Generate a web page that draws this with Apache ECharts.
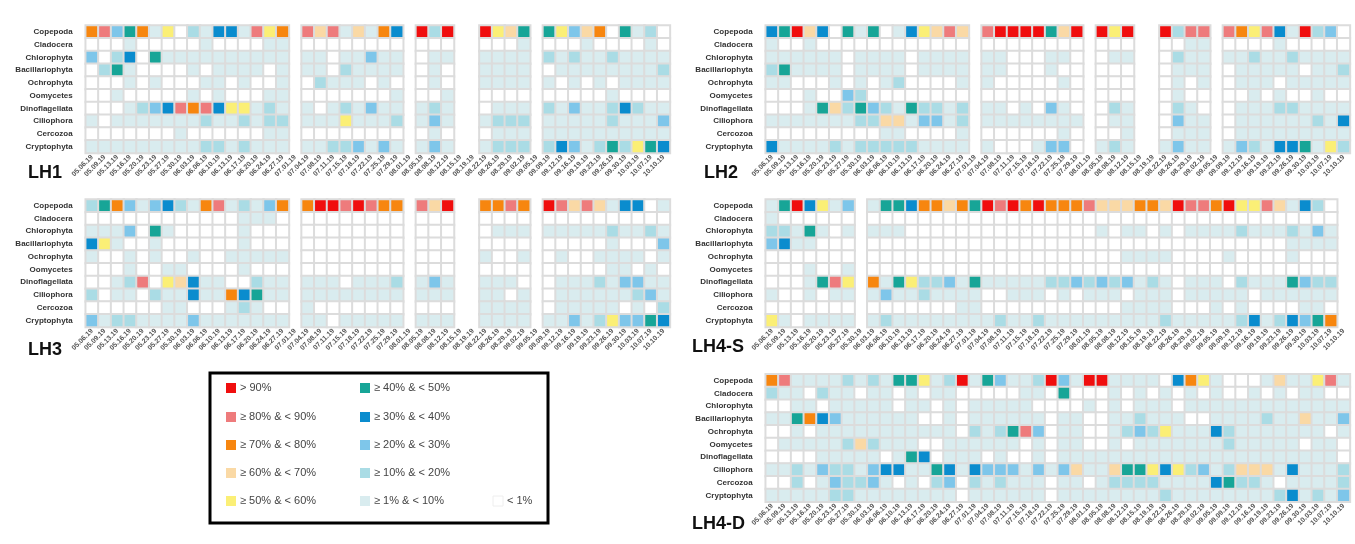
<!DOCTYPE html>
<html>
<head>
<meta charset="utf-8">
<script src="https://cdn.jsdelivr.net/npm/echarts@6/dist/echarts.min.js"></script>
<style>
  html, body { margin: 0; padding: 0; background: #fff; }
  #main { width: 1355px; height: 544px; }
</style>
</head>
<body>
<div id="main"></div>
<script>
const taxa = ['Copepoda', 'Cladocera', 'Chlorophyta', 'Bacillariophyta', 'Ochrophyta',
  'Oomycetes', 'Dinoflagellata', 'Ciliophora', 'Cercozoa', 'Cryptophyta'];

const dates = ['05.06.19', '05.09.19', '05.13.19', '05.16.19', '05.20.19', '05.23.19', '05.27.19', '05.30.19',
  '06.03.19', '06.06.19', '06.10.19', '06.13.19', '06.17.19', '06.20.19', '06.24.19', '06.27.19',
  '07.01.19', '07.04.19', '07.08.19', '07.11.19', '07.15.19', '07.18.19', '07.22.19', '07.25.19', '07.29.19',
  '08.01.19', '08.05.19', '08.08.19', '08.12.19', '08.15.19', '08.19.19', '08.22.19', '08.26.19', '08.29.19',
  '09.02.19', '09.05.19', '09.09.19', '09.12.19', '09.16.19', '09.19.19', '09.23.19', '09.26.19', '09.30.19',
  '10.03.19', '10.07.19', '10.10.19'];

// share class of each taxon per date: 0 = "< 1%" ... 9 = "80-90%", A = "> 90%", '.' = no sample
const binLabels = ['< 1%', '≥ 1% & < 10%', '≥ 10% & < 20%', '≥ 20% & < 30%', '≥ 30% & < 40%',
  '≥ 40% & < 50%', '≥ 50% & < 60%', '≥ 60% & < 70%', '≥ 70% & < 80%', '≥ 80% & < 90%', '> 90%'];

const lh1 = [
  '8935816021441968.97917184.A2A..A675.5637805120',
  '0001000001000011.00000000.000..0001.0001000010',
  '3024051111111111.11011311.011..1111.2121121111',
  '0251000010111101.11021111.010..1111.0111111112',
  '0001010001101001.02111010.010..1111.1010101111',
  '0010000010100011.00000001.001..0000.0000010000',
  '0001234989466121.10121311.121..0111.2131124211',
  '1011111112112122.11161112.131..1222.1111121113',
  '0000000100000011.00000000.010..0111.1111111111',
  '1111111112212111.11223131.131..1222.2431252654'
];
const lh2 = [
  '45A7405150146797.9AAAA57A.A6A..A299.986941A230',
  '1001000000000000.00000000.000..0011.0000100000',
  '1111110111101111.11000110.011..0211.1121121111',
  '2511110111101111.11000100.000..0111.0111110112',
  '1100010101200001.10000010.000..0101.0111011111',
  '0001003200000000.00000000.000..0100.0010100100',
  '0001572532152212.11010310.021..0210.0111221111',
  '1111111227713312.11111111.011..0311.0111111214',
  '0000000001100001.00000010.001..0111.0111111111',
  '4111121222221111.10001330.121..1311.1321445162'
];
const lh3 = [
  '2583134218912138.8AA9A988.97A..8898.A979714401',
  '0000000000001110.00000000.000..0000.0000000000',
  '1113051000001000.00000000.000..0111.1111121121',
  '4610010000001000.00000000.000..0000.0000010003',
  '1001010010011111.00000000.000..1001.0100111101',
  '0001001100001000.00000000.000..0000.0000011010',
  '0012906741100211.11101112.131..1110.0111213311',
  '2011021141184511.11111111.111..1101.0111111231',
  '0000001100012100.10000000.000..1111.0111110102',
  '3122111131111111.11011111.111..1111.1131263354'
];
const lh4s = [
  '15A4613.155488785A9A8A8889777887A998A66971420.',
  '1000000.0000000000000000000000000000000000000.',
  '2215101.1110000000000000001011010111121112131.',
  '3411000.0000000000000000000000000000000001111.',
  '0000000.0000000000000000000011110000100001000.',
  '0001001.0000000000000000000000000000000000000.',
  '0001596.8156223151111122323231210111021115322.',
  '1001011.1311211110011101011101110111110111111.',
  '0000000.0000000110000000000011110001010000110.',
  '6101111.1211111111211211111111121111124124358.'
];
const lh4d = [
  '891111212155612A153112A31AA1111048610001711691',
  '2110211011010110000011050001010101010010101100',
  '0011011111011010111110000101011101111111111111',
  '1158431111110010111111011001121110011112117113',
  '0010111111111110212593011001232611142111111101',
  '0111112721110011111101011001011111112111110110',
  '0000111110154011101001011111111111111111111110',
  '1121322134411541433313137117556462312777141112',
  '0020132231010230212111011012222111145221011112',
  '1111122111111110111111011111111211111111241213'
];

const palette = ['#ffffff', '#d9ecef', '#aadce5', '#7ec6ea', '#0a8cce', '#17a597',
  '#fbef76', '#fad9a5', '#f7860f', '#ee7b7c', '#f00e0e'];

const panels = [
  { name: 'LH1', rows: lh1, left: 85.7, top: 25.6, tx: 28, ty: 164 },
  { name: 'LH2', rows: lh2, left: 765.7, top: 25.6, tx: 704, ty: 164 },
  { name: 'LH3', rows: lh3, left: 85.7, top: 199.4, tx: 28, ty: 341 },
  { name: 'LH4-S', rows: lh4s, left: 765.7, top: 199.4, tx: 692, ty: 338 },
  { name: 'LH4-D', rows: lh4d, left: 765.7, top: 374.3, tx: 692, ty: 515 }
];

function toCells(rows) {
  const out = [];
  rows.forEach((row, r) => {
    row.split('').forEach((ch, c) => {
      if (ch === '.') return;
      out.push([c, r, ch === 'A' ? 10 : Number(ch)]);
    });
  });
  return out;
}

const FONT = 'Liberation Sans, Arial, sans-serif';

// legend key: two columns of five plus "< 1%"
const keyItems = [];
const rowY = [388, 417, 445, 473, 501];
[10, 9, 8, 7, 6].forEach((b, i) => keyItems.push({ b, x: 226, y: rowY[i] }));
[5, 4, 3, 2, 1].forEach((b, i) => keyItems.push({ b, x: 360, y: rowY[i] }));
keyItems.push({ b: 0, x: 493, y: rowY[4] });

const graphic = [{
  type: 'rect',
  shape: { x: 210, y: 373, width: 338, height: 150 },
  style: { fill: 'none', stroke: '#000', lineWidth: 3 }
}];
keyItems.forEach(k => {
  graphic.push({
    type: 'rect',
    shape: { x: k.x, y: k.y - 5, width: 10, height: 10 },
    style: { fill: palette[k.b], stroke: k.b === 0 ? '#eeeeee' : null, lineWidth: 1 }
  });
  graphic.push({
    type: 'text',
    x: k.x + 14, y: k.y,
    style: { text: binLabels[k.b], fill: '#444', font: '11px ' + FONT, verticalAlign: 'middle' }
  });
});

const chart = echarts.init(document.getElementById('main'));
chart.setOption({
  animation: false,
  title: panels.map(p => ({
    text: p.name, left: p.tx, top: p.ty, padding: 0,
    textStyle: { fontSize: 18, fontWeight: 'bold', color: '#111', fontFamily: FONT }
  })),
  grid: panels.map(p => ({ left: p.left, top: p.top, width: 584.2, height: 127.5 })),
  xAxis: panels.map((p, i) => ({
    type: 'category', gridIndex: i, data: dates,
    axisLine: { show: false }, axisTick: { show: false }, splitLine: { show: false },
    axisLabel: { interval: 0, rotate: 45, fontSize: 7, fontWeight: 'bold', color: '#555', margin: 3, fontFamily: FONT }
  })),
  yAxis: panels.map((p, i) => ({
    type: 'category', gridIndex: i, data: taxa, inverse: true,
    axisLine: { show: false }, axisTick: { show: false }, splitLine: { show: false },
    axisLabel: { fontSize: 8, fontWeight: 'bold', color: '#333', margin: 13, fontFamily: FONT }
  })),
  visualMap: {
    type: 'piecewise', show: false, dimension: 2,
    seriesIndex: [0, 1, 2, 3, 4],
    pieces: palette.map((c, k) => ({ value: k, color: c }))
  },
  series: panels.map((p, i) => ({
    type: 'heatmap', xAxisIndex: i, yAxisIndex: i,
    data: toCells(p.rows),
    itemStyle: { borderColor: '#dcdcdc', borderWidth: 2 },
    emphasis: { disabled: true }
  })),
  graphic: graphic
});
</script>
</body>
</html>
